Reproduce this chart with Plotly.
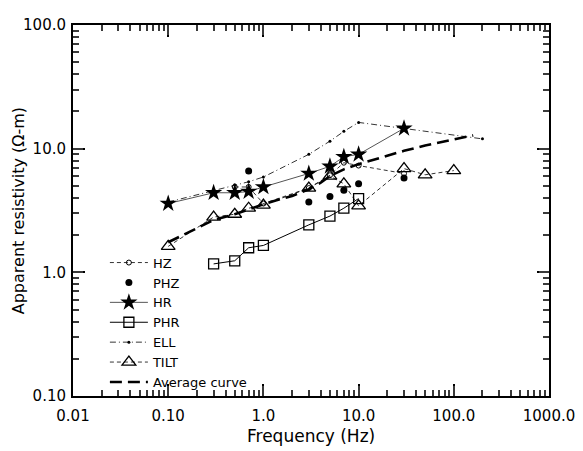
import plotly.graph_objects as go

# ---- data (frequency in Hz, apparent resistivity in ohm-m) ----
hz_f = [0.5, 0.7, 1.0, 3.0, 5.0, 7.0, 10.0, 30.0]
hz_r = [4.9, 4.9, 3.6, 4.8, 6.1, 7.7, 7.3, 6.3]

phz_f = [0.7, 3.0, 5.0, 7.0, 10.0, 30.0]
phz_r = [6.6, 3.7, 4.1, 4.6, 5.2, 5.8]

hr_f = [0.1, 0.3, 0.5, 0.7, 1.0, 3.0, 5.0, 7.0, 10.0, 30.0]
hr_r = [3.6, 4.4, 4.4, 4.5, 4.9, 6.3, 7.2, 8.6, 9.0, 14.6]

phr_f = [0.3, 0.5, 0.7, 1.0, 3.0, 5.0, 7.0, 10.0]
phr_r = [1.17, 1.24, 1.58, 1.65, 2.42, 2.85, 3.3, 3.95]

ell_f = [0.1, 0.3, 0.5, 0.7, 1.0, 3.0, 5.0, 7.0, 10.0, 30.0, 200.0]
ell_r = [3.7, 4.6, 5.1, 5.4, 5.9, 9.0, 11.5, 13.8, 16.3, 14.6, 12.0]

tilt_f = [0.1, 0.3, 0.5, 0.7, 1.0, 3.0, 5.0, 7.0, 10.0, 30.0, 50.0, 100.0]
tilt_r = [1.62, 2.8, 2.95, 3.3, 3.5, 4.8, 6.0, 5.2, 3.45, 6.9, 6.15, 6.65]

avg_f = [0.1, 0.3, 0.5, 0.7, 1.0, 1.5, 2.0, 3.0, 4.0, 5.0, 7.0, 10.0, 20.0, 30.0, 50.0, 100.0, 160.0]
avg_r = [1.75, 2.65, 2.95, 3.25, 3.55, 3.9, 4.15, 4.7, 5.3, 6.0, 6.8, 7.5, 8.8, 9.6, 10.6, 11.9, 12.8]

x_tickvals = [0.01, 0.1, 1, 10, 100, 1000]
x_ticktext = ["0.01", "0.10", "1.0", "10.0", "100.0", "1000.0"]
y_tickvals = [0.1, 1, 10, 100]
y_ticktext = ["0.10", "1.0", "10.0", "100.0"]

x_minor = [m * d for d in [0.01, 0.1, 1, 10, 100] for m in range(2, 10)]
y_minor = [m * d for d in [0.1, 1, 10] for m in range(2, 10)]

FONT = "DejaVu Sans"
X_RANGE = [-2, 3]
Y_RANGE = [-1, 2]

fig = go.Figure()

fig.add_trace(go.Scatter(
    x=hz_f, y=hz_r, name="HZ", mode="lines+markers",
    line=dict(color="black", width=0.8, dash="4px,3px"),
    marker=dict(symbol="circle-open", size=5, color="black", line=dict(width=1))))
fig.add_trace(go.Scatter(
    x=phz_f, y=phz_r, name="PHZ", mode="markers",
    marker=dict(symbol="circle", size=7, color="black")))
fig.add_trace(go.Scatter(
    x=hr_f, y=hr_r, name="HR", mode="lines+markers",
    line=dict(color="#555555", width=1),
    marker=dict(symbol="star", size=13, color="black", line=dict(width=0))))
fig.add_trace(go.Scatter(
    x=phr_f, y=phr_r, name="PHR", mode="lines+markers",
    line=dict(color="black", width=1),
    marker=dict(symbol="square-open", size=10, color="black", line=dict(width=1.3))))
fig.add_trace(go.Scatter(
    x=ell_f, y=ell_r, name="ELL", mode="lines+markers",
    line=dict(color="black", width=0.8, dash="6px,3px,1px,3px"),
    marker=dict(symbol="circle", size=3, color="black")))
fig.add_trace(go.Scatter(
    x=tilt_f, y=tilt_r, name="TILT", mode="lines+markers",
    line=dict(color="black", width=0.8, dash="4px,3px"),
    marker=dict(symbol="triangle-up-open", size=12, color="black", line=dict(width=1.3))))
fig.add_trace(go.Scatter(
    x=avg_f, y=avg_r, name="Average curve", mode="lines",
    line=dict(color="black", width=2.6, dash="12px,6px")))

# invisible trace so the overlay axes (extra tick marks) get drawn
fig.add_trace(go.Scatter(
    x=avg_f[:1], y=avg_r[:1], xaxis="x2", yaxis="y2", mode="markers",
    marker=dict(opacity=0), showlegend=False, hoverinfo="skip"))

# main axes: labels, frame, long black ticks
label_axis = dict(
    type="log", showline=True, linecolor="black", linewidth=2,
    mirror="allticks", gridcolor="white", zeroline=False,
    ticks="inside", ticklen=12, tickwidth=2, tickcolor="black",
    tickfont=dict(family=FONT, size=15, color="black"),
    tickmode="array",
)
# overlay axes: dark-grey ticks (decades + minor 2..9)
tick_axis = dict(
    type="log", showline=False, mirror="allticks", gridcolor="white",
    ticks="inside", ticklen=10, tickwidth=2, tickcolor="#3a3a3a",
    showticklabels=False, tickmode="linear", tick0=0, dtick=1,
    minor=dict(ticks="inside", ticklen=6, tickwidth=2, tickcolor="#3a3a3a"),
)

fig.update_layout(
    xaxis=dict(**label_axis, range=X_RANGE, tickvals=x_tickvals,
               ticktext=x_ticktext, ticklabelstandoff=5,
               minor=dict(ticks="inside", ticklen=6, tickwidth=2, tickcolor="black",
                          tickmode="array", tickvals=x_minor)),
    yaxis=dict(**label_axis, range=Y_RANGE, tickvals=y_tickvals,
               ticktext=y_ticktext, ticklabelstandoff=2,
               minor=dict(ticks="inside", ticklen=6, tickwidth=2, tickcolor="black",
                          tickmode="array", tickvals=y_minor)),
    xaxis2=dict(**tick_axis, range=X_RANGE, overlaying="x", anchor="y2",
                side="bottom"),
    yaxis2=dict(**tick_axis, range=Y_RANGE, overlaying="y", anchor="x2",
                side="left"),
)

fig.add_annotation(
    text="Apparent resistivity (Ω-m)", xref="paper", yref="paper",
    x=-0.114, y=0.5, textangle=-90, showarrow=False,
    xanchor="center", yanchor="middle",
    font=dict(family=FONT, size=16, color="black"))
fig.add_annotation(
    text="Frequency (Hz)", xref="paper", yref="paper",
    x=0.5, y=-0.108, showarrow=False, xanchor="center", yanchor="middle",
    font=dict(family=FONT, size=17, color="black"))

# page body has an 8px default margin, so the figure is sized to compensate
fig.update_layout(
    width=575, height=443, autosize=False,
    margin=dict(l=65, r=29, t=8, b=55),
    paper_bgcolor="white", plot_bgcolor="white",
    showlegend=True,
    legend=dict(x=0.067, y=0.40, xanchor="left", yanchor="top",
                bgcolor="rgba(0,0,0,0)", borderwidth=0,
                font=dict(family=FONT, size=13, color="black"),
                itemwidth=38, tracegroupgap=0),
)

fig.write_html("out.html")
